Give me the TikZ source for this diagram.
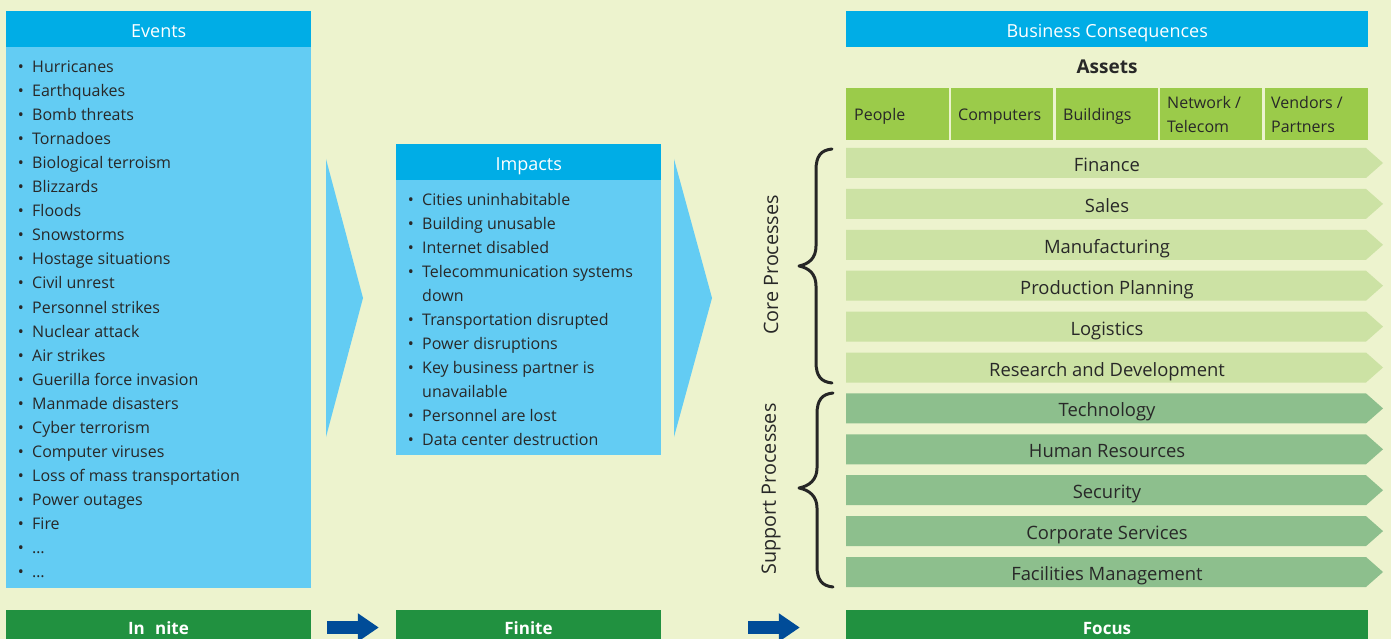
\documentclass[tikz,border=0pt]{standalone}
\usepackage{fontspec}
\setmainfont{Open Sans}
\usetikzlibrary{arrows.meta}
\definecolor{bg}{RGB}{237,243,206}
\definecolor{hdr}{RGB}{0,173,230}
\definecolor{pbody}{RGB}{99,204,243}
\definecolor{asset}{RGB}{155,203,74}
\definecolor{core}{RGB}{204,226,164}
\definecolor{supp}{RGB}{141,191,141}
\definecolor{gbar}{RGB}{33,145,64}
\definecolor{navy}{RGB}{0,76,152}
\definecolor{txt}{RGB}{40,40,40}
\newcommand\procbar[4]{%
  \fill[#4] (846,#2-15) -- (1366,#2-15) -- (1383,#2) -- (1366,#2+15) -- (846,#2+15) -- cycle;
  \node[bartext] (#1) at (1107,#2) {#3};}
\begin{document}
\begin{tikzpicture}[x=1pt,y=-1pt,
  hdrbox/.style={fill=hdr, text=white, inner sep=0, anchor=north west, minimum height=36,
    font=\fontsize{18}{20}\selectfont, text height=16.5pt, text depth=0pt},
  bodybox/.style={fill=pbody, inner sep=0, anchor=north west},
  item/.style={anchor=base west, inner sep=0, text=txt, font=\fontsize{16}{19}\selectfont},
  bul/.style={anchor=base, inner sep=0, text=txt, font=\fontsize{16}{19}\selectfont},
  bartext/.style={inner sep=0, text=txt, font=\fontsize{18.4}{20}\selectfont, text height=17pt, text depth=0pt},
  assetbox/.style={fill=asset, anchor=north west, minimum height=52, inner sep=0},
  assettext/.style={anchor=base west, inner sep=0, align=left, text=txt, font=\fontsize{16}{24}\selectfont},
  gbarbox/.style={fill=gbar, text=white, inner sep=0, minimum height=36,
    font=\fontsize{17}{19}\selectfont\bfseries, text height=13pt, text depth=0pt},
  bigarrow/.style={fill=pbody},
  flowarrow/.style={navy, line width=13pt, -{Triangle[length=21pt,width=27pt]}},
  bracestyle/.style={line width=3pt, line cap=round, line join=round, draw=black!85},
  rotlabel/.style={inner sep=0, text=txt, rotate=90, font=\fontsize{19.8}{22}\selectfont}
]
\fill[bg] (0,0) rectangle (1391,639);
\useasboundingbox (0,0) rectangle (1391,639);

% Events panel
\node[bodybox, minimum width=305, minimum height=541] (evbody) at (6,47) {};
\node[hdrbox, minimum width=305] (evhead) at (6,11) {Events};
\foreach \t [count=\i] in {Hurricanes,Earthquakes,Bomb threats,Tornadoes,Biological terroism,Blizzards,Floods,Snowstorms,Hostage situations,Civil unrest,Personnel strikes,Nuclear attack,Air strikes,Guerilla force invasion,Manmade disasters,Cyber terrorism,Computer viruses,Loss of mass transportation,Power outages,Fire,\ldots,\ldots}{
  \node[bul] (evb\i) at (21,{72.5+24.05*(\i-1)}) {•};
  \node[item] (ev\i) at (32,{72.5+24.05*(\i-1)}) {\t};
}

% big arrow 1
\fill[bigarrow] (326,159) -- (363,298) -- (326,437) -- cycle;

% Impacts panel
\node[bodybox, minimum width=265, minimum height=275] (imbody) at (396,180) {};
\node[hdrbox, minimum width=265] (imhead) at (396,144) {Impacts};
\foreach \b/\t [count=\i] in {1/Cities uninhabitable,1/Building unusable,1/Internet disabled,1/Telecommunication systems,0/down,1/Transportation disrupted,1/Power disruptions,1/Key business partner is,0/unavailable,1/Personnel are lost,1/Data center destruction}{
  \ifnum\b=1 \node[bul] (imb\i) at (411,{205.5+24*(\i-1)}) {•};\fi
  \node[item] (im\i) at (422,{205.5+24*(\i-1)}) {\t};
}

% big arrow 2
\fill[bigarrow] (674,159) -- (712,298) -- (674,437) -- cycle;

% Business consequences
\node[hdrbox, minimum width=522] (bchead) at (846,11) {Business Consequences};
\node[inner sep=0, text=txt, font=\fontsize{19}{22}\selectfont\bfseries] (assets) at (1107,67) {Assets};
\node[assetbox, minimum width=103] (people) at (846,88) {};
\node[assetbox, minimum width=102] (computers) at (951,88) {};
\node[assetbox, minimum width=102] (buildings) at (1056,88) {};
\node[assetbox, minimum width=102] (network) at (1160,88) {};
\node[assetbox, minimum width=103] (vendors) at (1265,88) {};
\node[assettext] (peoplet) at (854,120.5) {People};
\node[assettext] (computerst) at (958,120.5) {Computers};
\node[assettext] (buildingst) at (1063,120.5) {Buildings};
\node[assettext] (networkt) at (1167,132.5) {Network /\\Telecom};
\node[assettext] (vendorst) at (1271,132.5) {Vendors /\\Partners};

\procbar{finance}{163}{Finance}{core}
\procbar{sales}{203.9}{Sales}{core}
\procbar{manuf}{244.8}{Manufacturing}{core}
\procbar{prodplan}{285.7}{Production Planning}{core}
\procbar{logistics}{326.6}{Logistics}{core}
\procbar{rnd}{367.5}{Research and Development}{core}
\procbar{tech}{408.4}{Technology}{supp}
\procbar{hr}{449.3}{Human Resources}{supp}
\procbar{security}{490.2}{Security}{supp}
\procbar{corp}{531.1}{Corporate Services}{supp}
\procbar{facil}{572}{Facilities Management}{supp}

% braces
\draw[bracestyle] (832,149) .. controls (821,150) and (816,156) .. (816,170) -- (816,246)
  .. controls (816,258) and (809,264) .. (799,266) .. controls (809,268) and (816,274) .. (816,286)
  -- (816,362) .. controls (816,376) and (821,382) .. (832,383);
\draw[bracestyle] (833,393) .. controls (822,394) and (817,400) .. (817,414) -- (817,468)
  .. controls (817,480) and (809,486) .. (799,488) .. controls (809,490) and (817,496) .. (817,508)
  -- (817,566) .. controls (817,580) and (822,586) .. (833,587);
\node[rotlabel] (corelbl) at (771,265) {Core Processes};
\node[rotlabel] (supplbl) at (771,489) {Support Processes};

% bottom bars
\node[gbarbox, minimum width=305] (infinite) at (158.5,627.5) {In\hspace{0.6em}nite};
\node[gbarbox, minimum width=265] (finite) at (528.5,627.5) {Finite};
\node[gbarbox, minimum width=522] (focus) at (1107,627.5) {Focus};
\draw[flowarrow, shorten <=16pt, shorten >=17pt] (infinite.east) -- (finite.west);
\draw[flowarrow, shorten <=87pt, shorten >=46pt] (finite.east) -- (focus.west);
\end{tikzpicture}
\end{document}
